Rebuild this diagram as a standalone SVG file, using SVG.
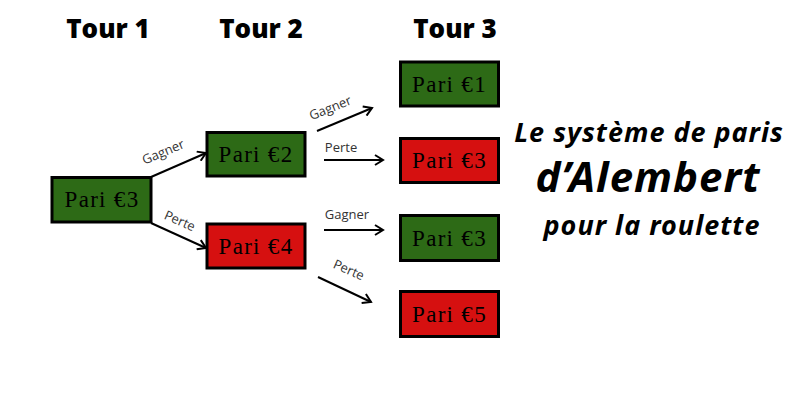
<svg xmlns="http://www.w3.org/2000/svg" width="800" height="400" viewBox="0 0 800 400">
<defs>
<style>
.box{stroke:#000;stroke-width:3}
.win{fill:#2d6a16}
.lose{fill:#d61010}
.bt{font-family:"Liberation Serif",serif;font-size:23px;letter-spacing:1.3px;fill:#000;text-anchor:middle}
.hd{font-family:"Open Sans","Noto Sans",sans-serif;font-size:26px;font-weight:800;fill:#000;text-anchor:middle}
.lb{font-family:"Open Sans","Noto Sans",sans-serif;font-size:13px;fill:#333;text-anchor:middle}
.ti{font-family:"Noto Sans","Open Sans",sans-serif;font-style:italic;font-weight:bold;fill:#000;text-anchor:middle}
.ar{stroke:#000;stroke-width:2;fill:none;marker-end:url(#ah)}
</style>
<marker id="ah" viewBox="0 0 12 12" refX="10" refY="6" markerWidth="12" markerHeight="12" markerUnits="userSpaceOnUse" orient="auto">
<path d="M2,1 L10,6 L2,11" fill="none" stroke="#000" stroke-width="2"/>
</marker>
</defs>
<rect width="800" height="400" fill="#fff"/>
<g id="headers">
<text class="hd" x="108" y="38">Tour 1</text>
<text class="hd" x="261" y="38">Tour 2</text>
<text class="hd" x="455" y="38">Tour 3</text>
</g>
<g id="connectors">
<line class="ar" x1="151" y1="177" x2="206" y2="153"/>
<line class="ar" x1="151" y1="223" x2="206" y2="248"/>
<line class="ar" x1="317" y1="131" x2="372" y2="108"/>
<line class="ar" x1="324" y1="160" x2="383" y2="160"/>
<line class="ar" x1="324" y1="230" x2="383" y2="230"/>
<line class="ar" x1="318" y1="277" x2="371" y2="302"/>
<text class="lb" transform="translate(165,156) rotate(-23)">Gagner</text>
<text class="lb" transform="translate(178,225) rotate(24)">Perte</text>
<text class="lb" transform="translate(332,112) rotate(-22)">Gagner</text>
<text class="lb" x="341" y="152">Perte</text>
<text class="lb" x="347" y="219">Gagner</text>
<text class="lb" transform="translate(347,274) rotate(24)">Perte</text>
</g>
<g id="n1"><rect class="box win" x="52" y="177.5" width="99" height="44.5"/><text class="bt" x="102" y="207">Pari €3</text></g>
<g id="n2"><rect class="box win" x="207" y="132.5" width="98" height="43.5"/><text class="bt" x="256" y="162">Pari €2</text></g>
<g id="n3"><rect class="box lose" x="207" y="224" width="98" height="44"/><text class="bt" x="256" y="254">Pari €4</text></g>
<g id="n4"><rect class="box win" x="400.5" y="62" width="98" height="44"/><text class="bt" x="449.5" y="92">Pari €1</text></g>
<g id="n5"><rect class="box lose" x="400.5" y="138.5" width="98" height="44"/><text class="bt" x="449.5" y="168">Pari €3</text></g>
<g id="n6"><rect class="box win" x="400.5" y="215.5" width="98" height="45"/><text class="bt" x="449.5" y="246">Pari €3</text></g>
<g id="n7"><rect class="box lose" x="400.5" y="291.5" width="98" height="45"/><text class="bt" x="449.5" y="322">Pari €5</text></g>
<g id="title">
<text class="ti" x="649" y="142" font-size="27" letter-spacing="1">Le système de paris</text>
<text class="ti" x="648" y="192" font-size="42" letter-spacing="1">d’Alembert</text>
<text class="ti" x="652" y="235" font-size="27" letter-spacing="1">pour la roulette</text>
</g>
</svg>
